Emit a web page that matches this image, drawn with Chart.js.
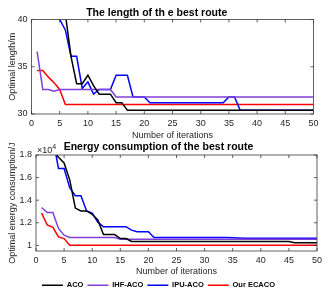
<!DOCTYPE html>
<html>
<head>
<meta charset="utf-8">
<script src="https://cdn.jsdelivr.net/npm/chart.js@4.4.0/dist/chart.umd.min.js"></script>
<style>
  html, body { margin: 0; padding: 0; background: #fff; overflow: hidden; }
  #wrap { position: relative; width: 331px; height: 297px; }
  canvas { position: absolute; left: 0; }
</style>
</head>
<body>
<div id="wrap">
  <canvas id="lenChart" width="331" height="142" style="top:0"></canvas>
  <canvas id="energyChart" width="331" height="159" style="top:140px"></canvas>
</div>
<script>
// x axis: iteration number
const iterations = [1, 2, 3, 4, 5, 6, 7, 8, 9, 10, 11, 12, 13, 14, 15, 16, 17, 18, 19, 20,
  21, 22, 23, 24, 25, 26, 27, 28, 29, 30, 31, 32, 33, 34, 35, 36, 37, 38, 39, 40,
  41, 42, 43, 44, 45, 46, 47, 48, 49, 50];
const seriesNames = ['ACO', 'IHF-ACO', 'IPU-ACO', 'Our ECACO'];
const seriesColors = ['#000000', '#8040d8', '#0000ff', '#ff0000'];

// optimal length (m)
const acoLength = [47, 46, 45, 44, 42.5, 40.6, 36.1, 33.2, 33.2, 34.1, 33.0, 32.1, 32.1, 32.1, 31.2, 31.2,
  30.4, 30.4, 30.4, 30.4, 30.4, 30.4, 30.4, 30.4, 30.4, 30.4, 30.4, 30.4, 30.4, 30.4, 30.4, 30.4, 30.4,
  30.4, 30.4, 30.4, 30.4, 30.4, 30.4, 30.4, 30.4, 30.4, 30.4, 30.4, 30.4, 30.4, 30.4, 30.4, 30.4, 30.4];
const ihfLength = [36.6, 32.6, 32.6, 32.4, 32.6, 32.6, 32.6, 32.6, 32.6, 32.6, 32.6, 32.6, 32.6, 32.6,
  31.8, 31.8, 31.8, 31.8, 31.8, 31.8, 31.8, 31.8, 31.8, 31.8, 31.8, 31.8, 31.8, 31.8, 31.8, 31.8, 31.8,
  31.8, 31.8, 31.8, 31.8, 31.8, 31.8, 31.8, 31.8, 31.8, 31.8, 31.8, 31.8, 31.8, 31.8, 31.8, 31.8, 31.8, 31.8, 31.8];
const ipuLength = [46, 45, 44, 42, 40.0, 38.9, 36.1, 36.1, 32.7, 33.4, 32.1, 32.6, 32.6, 32.6, 34.1, 34.1, 34.1,
  31.8, 31.8, 31.8, 31.2, 31.2, 31.2, 31.2, 31.2, 31.2, 31.2, 31.2, 31.2, 31.2, 31.2, 31.2, 31.2, 31.2,
  31.8, 31.8, 30.4, 30.4, 30.4, 30.4, 30.4, 30.4, 30.4, 30.4, 30.4, 30.4, 30.4, 30.4, 30.4, 30.4];
const ecacoLength = [34.6, 34.6, 33.9, 33.3, 32.6, 31.0, 31.0, 31.0, 31.0, 31.0, 31.0, 31.0, 31.0, 31.0, 31.0,
  31.0, 31.0, 31.0, 31.0, 31.0, 31.0, 31.0, 31.0, 31.0, 31.0, 31.0, 31.0, 31.0, 31.0, 31.0, 31.0, 31.0, 31.0,
  31.0, 31.0, 31.0, 31.0, 31.0, 31.0, 31.0, 31.0, 31.0, 31.0, 31.0, 31.0, 31.0, 31.0, 31.0, 31.0, 31.0];

// optimal energy consumption (J)
const acoEnergy = [21000, 19500, 18500, 17800, 17300, 15800, 13300, 13050, 13050, 12750, 12250, 10950, 10950,
  10950, 10600, 10600, 10350, 10350, 10350, 10350, 10350, 10350, 10350, 10350, 10350, 10350, 10350, 10350,
  10350, 10350, 10350, 10350, 10350, 10350, 10350, 10350, 10350, 10350, 10350, 10350, 10350, 10350, 10350,
  10350, 10350, 10230, 10230, 10230, 10230, 10230];
const ihfEnergy = [13350, 12900, 12900, 11500, 10900, 10700, 10700, 10700, 10700, 10700, 10700, 10700, 10700,
  10700, 10550, 10550, 10550, 10550, 10550, 10550, 10550, 10550, 10550, 10550, 10550, 10550, 10550, 10550,
  10550, 10550, 10550, 10550, 10550, 10550, 10550, 10550, 10550, 10550, 10550, 10550, 10550, 10550, 10550,
  10550, 10550, 10550, 10550, 10550, 10550, 10550];
const ipuEnergy = [22000, 21000, 19500, 16800, 16800, 15100, 14400, 14400, 13050, 12850, 12050, 11650, 11650,
  11650, 11650, 11650, 11350, 11200, 11200, 11200, 10700, 10700, 10700, 10700, 10700, 10700, 10700, 10700,
  10700, 10700, 10700, 10700, 10700, 10700, 10680, 10650, 10620, 10620, 10620, 10620, 10620, 10620, 10620,
  10620, 10620, 10620, 10620, 10620, 10620, 10620];
const ecacoEnergy = [12850, 11800, 11600, 10750, 10600, 10000, 10000, 10000, 10000, 10000, 10000, 10000, 10000,
  10000, 10000, 10000, 10000, 10000, 10000, 10000, 10000, 10000, 10000, 10000, 10000, 10000, 10000, 10000,
  10000, 10000, 10000, 10000, 10000, 10000, 10000, 10000, 10000, 10000, 10000, 10000, 10000, 10000, 10000,
  10000, 10000, 10000, 10000, 10000, 10000, 10000];

// tick labels
const xTicks = [0, 5, 10, 15, 20, 25, 30, 35, 40, 45, 50];
const lengthTicks = [30, 35, 40];
const energyTicks = [10000, 12000, 14000, 16000, 18000];

const FONT = "'Liberation Sans', Arial, Helvetica, sans-serif";
const AXIS = '#262626';

// MATLAB style box with inward ticks on all four sides
const boxTicks = {
  id: 'boxTicks',
  afterDatasetsDraw(chart) {
    const {ctx, chartArea: a, scales: {x, y}} = chart;
    ctx.save();
    ctx.strokeStyle = '#3a3a3a';
    ctx.lineWidth = 0.8;
    ctx.strokeRect(a.left, a.top, a.right - a.left, a.bottom - a.top);
    ctx.beginPath();
    x.ticks.forEach(t => {
      const px = x.getPixelForValue(t.value);
      ctx.moveTo(px, a.bottom); ctx.lineTo(px, a.bottom - 3);
      ctx.moveTo(px, a.top); ctx.lineTo(px, a.top + 3);
    });
    y.ticks.forEach(t => {
      const py = y.getPixelForValue(t.value);
      ctx.moveTo(a.left, py); ctx.lineTo(a.left + 3, py);
      ctx.moveTo(a.right, py); ctx.lineTo(a.right - 3, py);
    });
    ctx.stroke();
    ctx.restore();
  }
};

// x10^4 exponent label above the energy axis
const expLabel = {
  id: 'expLabel',
  afterDraw(chart) {
    const {ctx, chartArea: a} = chart;
    ctx.save();
    ctx.fillStyle = AXIS;
    ctx.textBaseline = 'middle';
    ctx.font = '9px ' + FONT;
    ctx.fillText('×10', a.left + 1, 10.5);
    const w = ctx.measureText('×10').width;
    ctx.font = '7px ' + FONT;
    ctx.fillText('4', a.left + 1 + w, 7);
    ctx.restore();
  }
};

function makeDatasets(values) {
  return seriesNames.map((name, i) => ({
    label: name,
    data: values[i],
    borderColor: seriesColors[i],
    backgroundColor: seriesColors[i],
    borderWidth: 1.5,
    pointRadius: 0,
    tension: 0,
    clip: 0
  }));
}

function makeOptions(o) {
  return {
    responsive: false,
    animation: false,
    layout: {padding: {left: 0, right: o.padRight, top: 0, bottom: 0}},
    plugins: {
      title: {
        display: true,
        text: o.title,
        color: '#000',
        font: {family: FONT, size: 10.5, weight: 'bold'},
        padding: o.titlePad
      },
      legend: o.legend,
      tooltip: {enabled: false}
    },
    scales: {
      x: {
        type: 'linear',
        min: 0,
        max: 50,
        grid: {display: false, drawTicks: false},
        border: {display: false},
        afterBuildTicks: s => { s.ticks = xTicks.map(v => ({value: v})); },
        afterFit: s => { s.height = o.xHeight; },
        ticks: {color: AXIS, font: {family: FONT, size: 9}, padding: 4, maxRotation: 0},
        title: {
          display: true,
          text: 'Number of iterations',
          color: AXIS,
          font: {family: FONT, size: 9},
          padding: {top: 0, bottom: o.xTitlePad}
        }
      },
      y: {
        min: o.yMin,
        max: o.yMax,
        grid: {display: false, drawTicks: false},
        border: {display: false},
        afterBuildTicks: s => { s.ticks = o.yTicks.map(v => ({value: v})); },
        afterFit: s => { s.width = o.yWidth; },
        ticks: {color: AXIS, font: {family: FONT, size: 9}, padding: 4, callback: o.yFormat},
        title: {
          display: true,
          text: o.yTitle,
          color: AXIS,
          font: {family: FONT, size: 9},
          padding: {top: o.yTitlePad, bottom: 0}
        }
      }
    }
  };
}

new Chart(document.getElementById('lenChart'), {
  type: 'line',
  data: {
    labels: iterations,
    datasets: makeDatasets([acoLength, ihfLength, ipuLength, ecacoLength])
  },
  options: makeOptions({
    title: 'The length of th e best route',
    titlePad: {top: 6.7, bottom: 0.2},
    padRight: 17.5,
    legend: {display: false},
    xHeight: 28,
    xTitlePad: 0.6,
    yMin: 30,
    yMax: 40,
    yTicks: lengthTicks,
    yWidth: 31.5,
    yTitle: 'Optimal length/m',
    yTitlePad: 7,
    yFormat: v => v
  }),
  plugins: [boxTicks]
});

new Chart(document.getElementById('energyChart'), {
  type: 'line',
  data: {
    labels: iterations,
    datasets: makeDatasets([acoEnergy, ihfEnergy, ipuEnergy, ecacoEnergy])
  },
  options: makeOptions({
    title: 'Energy consumption of the best route',
    titlePad: {top: 0.4, bottom: 2.0},
    padRight: 14,
    legend: {
      display: true,
      position: 'bottom',
      labels: {
        usePointStyle: true,
        pointStyle: 'line',
        pointStyleWidth: 21,
        padding: 4,
        color: '#000',
        font: {family: FONT, size: 7.5, weight: 'bold'}
      }
    },
    xHeight: 26.5,
    xTitlePad: 0.6,
    yMin: 9500,
    yMax: 18000,
    yTicks: energyTicks,
    yWidth: 36,
    yTitle: 'Optimal energy consumption/J',
    yTitlePad: 7.5,
    yFormat: v => v / 10000
  }),
  plugins: [boxTicks, expLabel]
});
</script>
</body>
</html>
